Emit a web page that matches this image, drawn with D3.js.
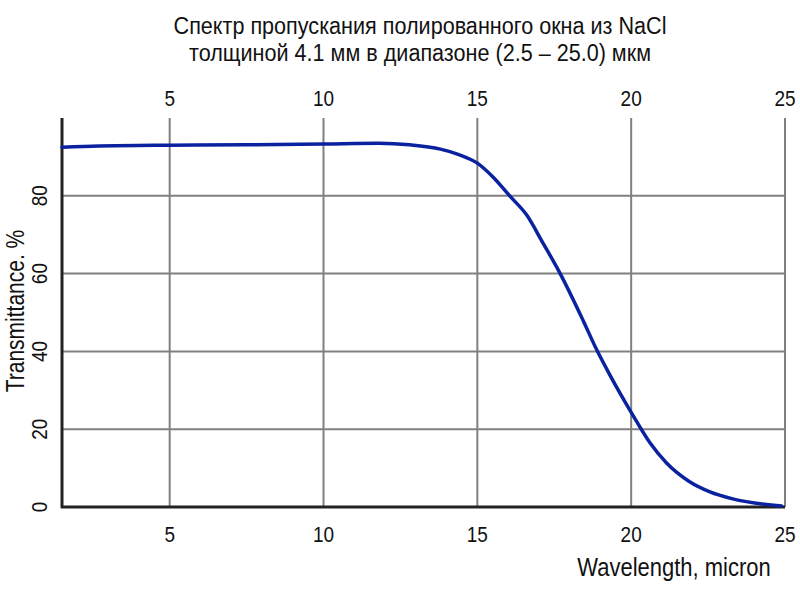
<!DOCTYPE html>
<html>
<head>
<meta charset="utf-8">
<script src="https://cdn.jsdelivr.net/npm/d3@7"></script>
<style>
  body { margin: 0; background: #fff; }
  text { font-family: "Liberation Sans", Arial, sans-serif; fill: #111; }
</style>
</head>
<body>
<div class="canvas"></div>
<script>
// transmission spectrum, values
const wavelength = [1.5, 2.7, 5, 7.5, 10, 11.8, 12.8, 13.8, 14.4, 15.0, 15.5, 16.06, 16.6, 17.13, 17.68, 18.43, 18.88, 19.31, 20.01, 20.61, 21.15, 21.9, 22.56, 23.3, 24.89];
const transmittance = [92.5, 92.8, 93.0, 93.1, 93.3, 93.5, 93.1, 92.0, 90.6, 88.4, 84.9, 79.9, 75.1, 67.9, 60.2, 48.1, 40.4, 33.9, 24.2, 16.5, 11.3, 6.5, 3.9, 2.1, 0.26];
const xTicks = [5, 10, 15, 20, 25];
const yTicks = [0, 20, 40, 60, 80];
const titleLines = ['Спектр пропускания полированного окна из NaCl', 'толщиной 4.1 мм в диапазоне (2.5 – 25.0) мкм'];

const dims = { width: 800, height: 601 };
const plot = { left: 62, right: 785, top: 118, bottom: 507 };
const stretch = 1.2; // glyphs in the picture are a bit taller than wide

const svg = d3.select('.canvas')
  .append('svg')
  .attr('width', dims.width)
  .attr('height', dims.height);

const x = d3.scaleLinear().domain([1.5, 25]).range([plot.left, plot.right]);
const y = d3.scaleLinear().domain([0, 100]).range([plot.bottom, plot.top]);

// grid
svg.append('g')
  .selectAll('line')
  .data(xTicks)
  .join('line')
    .attr('x1', d => x(d)).attr('x2', d => x(d))
    .attr('y1', plot.top).attr('y2', plot.bottom)
    .attr('stroke', '#808080').attr('stroke-width', 2);

svg.append('g')
  .selectAll('line')
  .data(yTicks.filter(d => d > 0))
  .join('line')
    .attr('x1', plot.left).attr('x2', plot.right)
    .attr('y1', d => y(d)).attr('y2', d => y(d))
    .attr('stroke', '#808080').attr('stroke-width', 2);

// left and bottom axis lines
svg.append('line')
  .attr('x1', plot.left).attr('x2', plot.left)
  .attr('y1', plot.top).attr('y2', plot.bottom + 1)
  .attr('stroke', '#222').attr('stroke-width', 3);
svg.append('line')
  .attr('x1', plot.left - 1).attr('x2', plot.right)
  .attr('y1', plot.bottom).attr('y2', plot.bottom)
  .attr('stroke', '#222').attr('stroke-width', 3);

// tick labels: bottom, top, left
svg.append('g')
  .selectAll('text')
  .data(xTicks)
  .join('text')
    .attr('transform', d => `translate(${x(d)}, 541.5) scale(1, ${stretch})`)
    .attr('text-anchor', 'middle')
    .attr('font-size', 19)
    .text(d => d);

svg.append('g')
  .selectAll('text')
  .data(xTicks)
  .join('text')
    .attr('transform', d => `translate(${x(d)}, 106) scale(1, ${stretch})`)
    .attr('text-anchor', 'middle')
    .attr('font-size', 19)
    .text(d => d);

svg.append('g')
  .selectAll('text')
  .data(yTicks)
  .join('text')
    .attr('transform', d => `translate(46.5, ${y(d)}) rotate(-90) scale(1, ${stretch})`)
    .attr('text-anchor', 'middle')
    .attr('font-size', 19)
    .text(d => d);

// axis titles
svg.append('text')
  .attr('transform', `translate(24, 311) rotate(-90) scale(1, ${stretch})`)
  .attr('text-anchor', 'middle')
  .attr('font-size', 21)
  .text('Transmittance. %');

svg.append('text')
  .attr('transform', `translate(674, 576) scale(1, ${stretch})`)
  .attr('text-anchor', 'middle')
  .attr('font-size', 22)
  .text('Wavelength, micron');

// title
svg.append('g')
  .selectAll('text')
  .data(titleLines)
  .join('text')
    .attr('transform', (d, i) => `translate(420, ${34 + i * 27}) scale(1, 1.15)`)
    .attr('text-anchor', 'middle')
    .attr('font-size', 21.6)
    .text(d => d);

// spectrum curve
const line = d3.line()
  .x(d => x(d[0]))
  .y(d => y(d[1]))
  .curve(d3.curveMonotoneX);

svg.append('path')
  .datum(d3.zip(wavelength, transmittance))
  .attr('d', line)
  .attr('fill', 'none')
  .attr('stroke', '#0a22a0')
  .attr('stroke-width', 3.5)
  .attr('stroke-linecap', 'round');
</script>
</body>
</html>
